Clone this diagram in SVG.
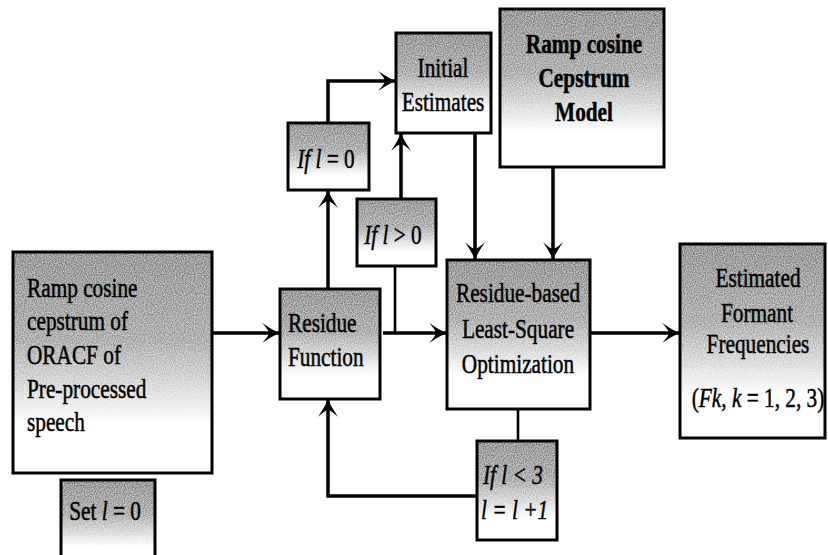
<svg xmlns="http://www.w3.org/2000/svg" width="828" height="555" viewBox="0 0 828 555">
  <style>
    .box { fill: url(#shade); filter: url(#grain); }
    .edge { fill: none; stroke: #000; stroke-width: 3; }
    .lbl { font-family: "Liberation Serif", "Times New Roman", serif; font-size: 28px; fill: #000; stroke: #000; stroke-width: 0.5; }
    .mid { text-anchor: middle; }
    .it { font-style: italic; }
    .bold { font-weight: bold; }
    .wire { fill: none; stroke: #000; stroke-width: 3.5; }
    .thin { stroke-width: 2.6; }
    .arrow { marker-end: url(#head); }
  </style>
  <defs>
    <!-- grey shading that fades to white towards the bottom of each block -->
    <linearGradient id="shade" x1="0" y1="0" x2="0" y2="1">
      <stop offset="0" stop-color="#9c9c9c"/>
      <stop offset="0.4" stop-color="#b2b2b2"/>
      <stop offset="0.78" stop-color="#ffffff"/>
      <stop offset="1" stop-color="#ffffff"/>
    </linearGradient>
    <!-- speckled texture, strongest where the shading is darkest -->
    <filter id="grain" x="0" y="0" width="1" height="1" color-interpolation-filters="sRGB">
      <feTurbulence type="fractalNoise" baseFrequency="0.9" numOctaves="1" seed="3" result="noise"/>
      <feColorMatrix in="noise" type="matrix" values="2.5 0 0 0 -0.75  2.5 0 0 0 -0.75  2.5 0 0 0 -0.75  0 0 0 0 1" result="grey"/>
      <feComposite in="SourceGraphic" in2="grey" operator="arithmetic" k1="-0.8" k2="1.4" k3="0.8" k4="-0.4" result="mix"/>
      <feComposite in="mix" in2="SourceGraphic" operator="in"/>
    </filter>
    <!-- barbed arrowhead, tip at the end of the path -->
    <marker id="head" markerUnits="userSpaceOnUse" orient="auto" viewBox="-17 -11 18 22" refX="0" refY="0" markerWidth="18" markerHeight="22" overflow="visible">
      <path d="M0,0 Q-8,-4 -17,-10 Q-11,-4 -10,0 Q-11,4 -17,10 Q-8,4 0,0 Z" fill="#000"/>
    </marker>
  </defs>

  <g id="connectors">
    <path class="wire arrow" d="M212,333 H279"/>
    <path class="wire arrow" d="M383,333 H446"/>
    <path class="wire thin" d="M395,333 V266"/>
    <path class="wire arrow" d="M401,199 V134"/>
    <path class="wire arrow" d="M328,289 V191"/>
    <path class="wire arrow" d="M328,123 V81 H395"/>
    <path class="wire arrow" d="M475,133 V259"/>
    <path class="wire arrow" d="M553,167 V259"/>
    <path class="wire arrow" d="M590,333 H679"/>
    <path class="wire thin" d="M518,409 V441"/>
    <path class="wire arrow" d="M477,496 H328 V400"/>
  </g>

  <g id="input">
    <rect class="box" x="13" y="252" width="199" height="221"/>
    <rect class="edge" x="13" y="252" width="199" height="221"/>
    <text class="lbl" transform="translate(27 297) scale(0.76 1)">Ramp cosine</text>
    <text class="lbl" transform="translate(27 330) scale(0.76 1)">cepstrum of</text>
    <text class="lbl" transform="translate(27 364) scale(0.76 1)">ORACF of</text>
    <text class="lbl" transform="translate(27 398) scale(0.76 1)">Pre-processed</text>
    <text class="lbl" transform="translate(27 431) scale(0.76 1)">speech</text>
  </g>

  <g id="set-l">
    <rect class="box" x="61" y="480" width="94" height="85"/>
    <rect class="edge" x="61" y="480" width="94" height="85"/>
    <text class="lbl mid" transform="translate(105 520) scale(0.76 1)">Set <tspan class="it">l</tspan> = 0</text>
  </g>

  <g id="residue">
    <rect class="box" x="280" y="289" width="100" height="110"/>
    <rect class="edge" x="280" y="289" width="100" height="110"/>
    <text class="lbl" transform="translate(288 332) scale(0.76 1)">Residue</text>
    <text class="lbl" transform="translate(288 366) scale(0.76 1)">Function</text>
  </g>

  <g id="if-zero">
    <rect class="box" x="288" y="123" width="81" height="67"/>
    <rect class="edge" x="288" y="123" width="81" height="67"/>
    <text class="lbl mid" transform="translate(326 168) scale(0.76 1)"><tspan class="it">If l</tspan> = 0</text>
  </g>

  <g id="if-positive">
    <rect class="box" x="357" y="199" width="79" height="67"/>
    <rect class="edge" x="357" y="199" width="79" height="67"/>
    <text class="lbl mid" transform="translate(393 244) scale(0.76 1)"><tspan class="it">If l</tspan> &gt; 0</text>
  </g>

  <g id="initial">
    <rect class="box" x="396" y="33" width="95" height="100"/>
    <rect class="edge" x="396" y="33" width="95" height="100"/>
    <text class="lbl mid" transform="translate(443 77) scale(0.76 1)">Initial</text>
    <text class="lbl mid" transform="translate(443 111) scale(0.76 1)">Estimates</text>
  </g>

  <g id="model">
    <rect class="box" x="500" y="9" width="164" height="158"/>
    <rect class="edge" x="500" y="9" width="164" height="158"/>
    <text class="lbl mid bold" transform="translate(584 53) scale(0.76 1)">Ramp cosine</text>
    <text class="lbl mid bold" transform="translate(584 87) scale(0.76 1)">Cepstrum</text>
    <text class="lbl mid bold" transform="translate(584 121) scale(0.76 1)">Model</text>
  </g>

  <g id="optimization">
    <rect class="box" x="447" y="260" width="143" height="149"/>
    <rect class="edge" x="447" y="260" width="143" height="149"/>
    <text class="lbl mid" transform="translate(518 302) scale(0.76 1)">Residue-based</text>
    <text class="lbl mid" transform="translate(518 338) scale(0.76 1)">Least-Square</text>
    <text class="lbl mid" transform="translate(518 373) scale(0.76 1)">Optimization</text>
  </g>

  <g id="loop-check">
    <rect class="box" x="477" y="441" width="80" height="99"/>
    <rect class="edge" x="477" y="441" width="80" height="99"/>
    <text class="lbl it" transform="translate(483 484) scale(0.76 1)">If l &lt; 3</text>
    <text class="lbl it" transform="translate(481 519) scale(0.76 1)">l = l +1</text>
  </g>

  <g id="formants">
    <rect class="box" x="680" y="244" width="145" height="194"/>
    <rect class="edge" x="680" y="244" width="145" height="194"/>
    <text class="lbl mid" transform="translate(758 287) scale(0.76 1)">Estimated</text>
    <text class="lbl mid" transform="translate(757 322) scale(0.76 1)">Formant</text>
    <text class="lbl mid" transform="translate(758 353) scale(0.76 1)">Frequencies</text>
    <text class="lbl mid" transform="translate(758 407) scale(0.76 1)">(<tspan class="it">Fk</tspan>, <tspan class="it">k</tspan> = 1, 2, 3)</text>
  </g>
</svg>
